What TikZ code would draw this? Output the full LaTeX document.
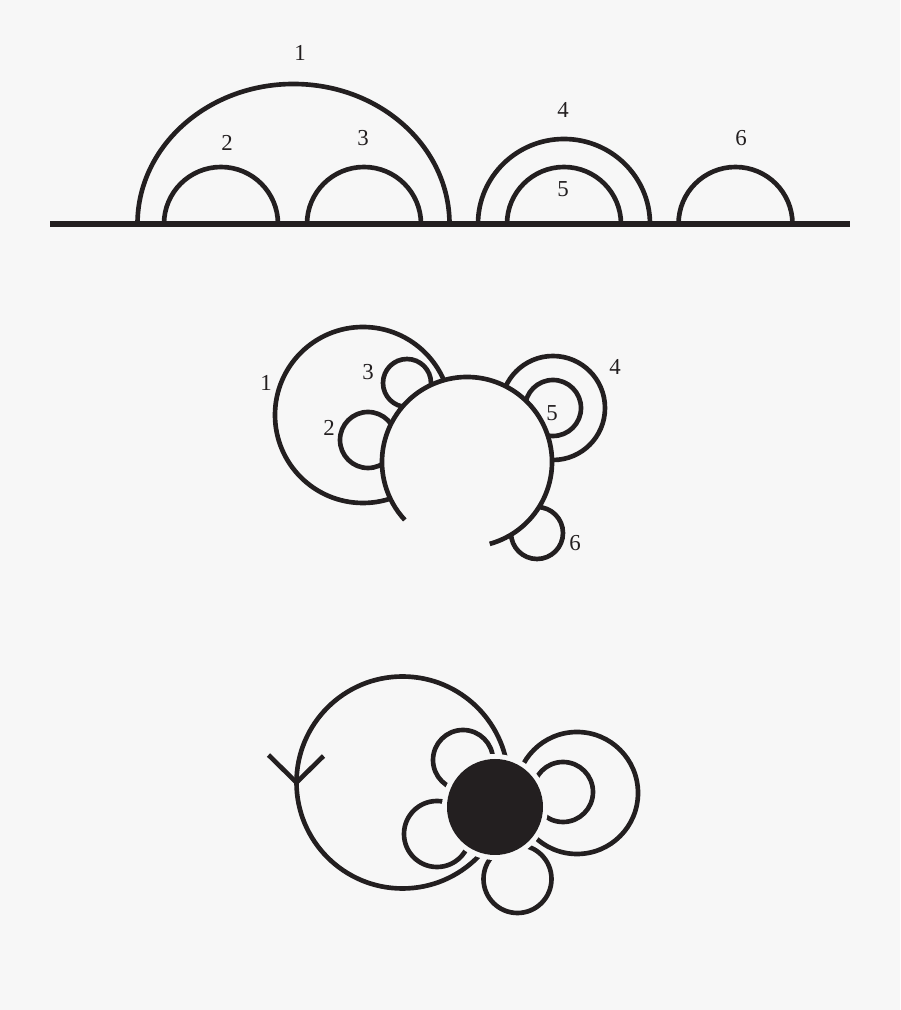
\documentclass[tikz,border=0pt]{standalone}
\usepackage{fontspec}
\setmainfont{Liberation Serif}
\usepackage{tikz}

\definecolor{paper}{HTML}{F7F7F7}
\definecolor{ink}{HTML}{231F20}

\begin{document}
\begin{tikzpicture}[x=0.2mm, y=0.2mm, line width=0.93mm, ink,
    lbl/.style={font=\fontsize{13}{15}\selectfont, text=ink, inner sep=0pt}]

\fill[paper] (0,0) rectangle (900,1010);
\useasboundingbox (0,0) rectangle (900,1010);

% arcs over the line
\coordinate (left) at (50,786);
\coordinate (right) at (850,786);
\draw[line width=1.05mm] (left) -- (right);

\draw (137.5,786) arc[start angle=180, end angle=0, x radius=156, y radius=140];
\draw (478,786) arc[start angle=180, end angle=0, x radius=86, y radius=85];
\foreach \cx in {221,364,564,735.5}
    \draw (\cx-57,786) arc[start angle=180, end angle=0, radius=57];

\foreach \n/\x/\y in {1/300/957, 2/227/867, 3/363/872, 4/563/900, 5/563/821, 6/741/872}
    \node[lbl] (arc\n) at (\x,\y) {\n};

% circles on the disc
\coordinate (disc) at (467,548);

\foreach \c/\r in {{363,595}/88, {407,627}/24, {368,570}/28, {553,602}/52, {553,602}/28, {537,477}/26}
    \draw (\c) circle[radius=\r];

\fill[paper] (disc) circle[radius=86];
\draw (disc) ++(-74.5:85) arc[start angle=-74.5, end angle=223, radius=85];

\foreach \n/\x/\y in {1/266/627, 2/329/582, 3/368/638, 4/615/643, 5/552/597, 6/575/467}
    \node[lbl] (disc\n) at (\x,\y) {\n};

% loops on the vertex
\coordinate (loop) at (402.5,227.5);
\coordinate (hub) at (495,203);
\coordinate (tip) at (296.5,227.5);

\draw (loop) circle[radius=106];
\foreach \c/\r in {{463,250}/30, {437,176}/33, {577,217}/61, {563,218}/30, {517.5,131}/34}
    \draw (\c) circle[radius=\r];

\fill[paper] (hub) circle[radius=53];
\fill (hub) circle[radius=48];

\draw (tip) -- ++(-28,27.5) (tip) -- ++(27,26.5);

\end{tikzpicture}
\end{document}
